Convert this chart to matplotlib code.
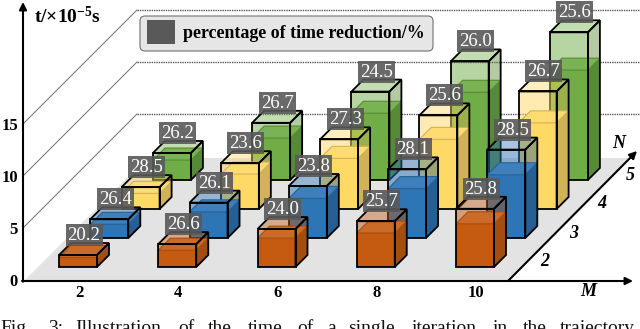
import matplotlib
matplotlib.use("Agg")
import matplotlib.pyplot as plt
from matplotlib.patches import Polygon, FancyBboxPatch, Rectangle

plt.rcParams['font.family'] = ['Liberation Serif', 'DejaVu Serif']
plt.rcParams['mathtext.fontset'] = 'custom'
plt.rcParams['mathtext.rm'] = 'Liberation Serif:bold'
plt.rcParams['mathtext.bf'] = 'Liberation Serif:bold'
plt.rcParams['mathtext.it'] = 'Liberation Serif:bold'

# Data
m_labels = [2, 4, 6, 8, 10]
n_labels = [2, 3, 4, 5]
y_ticks = [0, 5, 10, 15]

# total time per iteration (x 1e-5 s), one list per N
time_n2 = [1.15, 2.2, 3.65, 4.4, 5.6]
time_n3 = [1.8, 3.4, 5.0, 6.6, 8.5]
time_n4 = [2.1, 4.4, 6.7, 9.0, 11.3]
time_n5 = [2.6, 5.5, 8.5, 11.4, 14.2]

# percentage of time reduction, one list per N
pct_n2 = [20.2, 26.6, 24.0, 25.7, 25.8]
pct_n3 = [26.4, 26.1, 23.8, 28.1, 28.5]
pct_n4 = [28.5, 23.6, 27.3, 25.6, 26.7]
pct_n5 = [26.2, 26.7, 24.5, 26.0, 25.6]

times = [time_n2, time_n3, time_n4, time_n5]
pcts = [pct_n2, pct_n3, pct_n4, pct_n5]

# colours per N: front, side, top of the solid part
front_cols = ['#C55A11', '#2E75B6', '#FFD966', '#70AD47']
side_cols = ['#A34E10', '#265F93', '#D2B256', '#578A36']
top_cols = ['#CC6A28', '#3F80BC', '#FFDC72', '#7AB353']

# Projection of the fake 3D scene onto the pixel canvas
K = 10.4       # px per time unit
AXIS_Y = 281
ROW0_Y = 267
COL0_X = 59
COL_DX = 99.25
ROW_DX = 31.3
ROW_DY = 29
BAR_W = 38
DEPTH = 12
EDGE = 1.3

z = [10]


def nz():
    # every mark gets its own layer so the painter order holds
    z[0] += 1
    return z[0]


def poly(ax, pts, **kw):
    ax.add_patch(Polygon(pts, zorder=nz(), **kw))


def draw_bar(ax, x, base, total, pct, i_col):
    h_tot = total * K
    h_sol = total * (1 - pct / 100) * K
    top = base - h_tot
    mid = base - h_sol
    c = front_cols[i_col]
    s = side_cols[i_col]
    t = top_cols[i_col]
    r = x + BAR_W

    front_up = [(x, top), (r, top), (r, mid), (x, mid)]
    side_up = [(r, top), (r + DEPTH, top - DEPTH), (r + DEPTH, mid - DEPTH), (r, mid)]
    top_up = [(x, top), (r, top), (r + DEPTH, top - DEPTH), (x + DEPTH, top - DEPTH)]
    poly(ax, front_up, fc=c, alpha=0.5, ec='none')
    poly(ax, side_up, fc=s, alpha=0.45, ec='none')
    poly(ax, top_up, fc=c, alpha=0.42, ec='none')

    # solid lower part
    poly(ax, [(x, mid), (r, mid), (r, base), (x, base)], fc=c, ec='none')
    poly(ax, [(r, mid), (r + DEPTH, mid - DEPTH), (r + DEPTH, base - DEPTH), (r, base)], fc=s, ec='none')
    poly(ax, [(x, mid), (r, mid), (r + DEPTH, mid - DEPTH), (x + DEPTH, mid - DEPTH)], fc=t, ec=s, lw=0.8)

    # black outline
    poly(ax, [(x, top), (r, top), (r, base), (x, base)], fc='none', ec='black', lw=EDGE)
    poly(ax, [(r, top), (r + DEPTH, top - DEPTH), (r + DEPTH, base - DEPTH), (r, base)], fc='none', ec='black', lw=EDGE)
    poly(ax, top_up, fc='none', ec='black', lw=EDGE)

    # percentage label
    bx = x + 25
    by = top - 20
    ax.add_patch(Rectangle((bx - 18.5, by - 11), 37, 22, fc='#595959', alpha=0.9, ec='none', zorder=nz()))
    ax.text(bx, by + 0.5, f'{pct:.1f}', color='white', fontsize=13.5, ha='center', va='center', zorder=nz())


fig = plt.figure(figsize=(6.4, 3.29), dpi=100)
ax = fig.add_axes([0, 0, 1, 1])
ax.set_xlim(0, 640)
ax.set_ylim(329, 0)
ax.axis('off')

# floor
poly(ax, [(24, AXIS_Y), (507, AXIS_Y), (630, 158), (147, 158)], fc='#E3E3E3', ec='none')

# back walls
for tick in y_ticks[1:]:
    y0 = AXIS_Y - tick * K - 2
    ax.plot([24, 137], [y0, y0 - 113], color='#6E6E6E', lw=0.7, zorder=nz())
    ax.plot([137, 640], [y0 - 113, y0 - 113], color='#555555', lw=1.0, ls=(0, (1, 0.7)), zorder=nz())

# bars, back row first
for i_n in range(len(n_labels) - 1, -1, -1):
    for i_m in range(len(m_labels)):
        x = COL0_X + i_m * COL_DX + i_n * ROW_DX
        base = ROW0_Y - i_n * ROW_DY
        draw_bar(ax, x, base, times[i_n][i_m], pcts[i_n][i_m], i_n)

# axes
arrow = dict(arrowstyle='-|>', color='black', lw=1.5, mutation_scale=11, shrinkA=0, shrinkB=0)
ax.annotate('', xy=(23, 2), xytext=(23, AXIS_Y + 0.7), arrowprops=arrow, zorder=nz())
ax.annotate('', xy=(633, AXIS_Y), xytext=(22, AXIS_Y), arrowprops=arrow, zorder=nz())
ax.annotate('', xy=(637, 151), xytext=(508, AXIS_Y), arrowprops=arrow, zorder=nz())

for tick in y_ticks:
    ax.text(18, AXIS_Y - tick * K + 1, str(tick), fontsize=12, fontweight='bold', ha='right', va='center')
for i_m, lab in enumerate(m_labels):
    ax.text(COL0_X + i_m * COL_DX + BAR_W / 2 + 1, 293, str(lab), fontsize=12, fontweight='bold',
            ha='center', va='center')
for i_n, lab in enumerate(n_labels):
    ax.text(545 + i_n * 28.5, 262 - i_n * 29, str(lab), fontsize=13, style='italic',
            fontweight='bold', ha='center', va='center')
ax.text(588, 292, 'M', fontsize=13, style='italic', fontweight='bold', ha='center', va='center')
ax.text(619, 143, 'N', fontsize=13, style='italic', fontweight='bold', ha='center', va='center')
ax.text(34, 16, r'$\mathrm{t/{\times}10^{-5}s}$', fontsize=14, ha='left', va='center')

# legend
ax.add_patch(FancyBboxPatch((144, 20), 285, 27, boxstyle='round,pad=4,rounding_size=5',
                            fc='#E6E6E6', ec='#707070', lw=0.8, zorder=nz()))
ax.add_patch(Rectangle((147, 20), 28, 24, fc='#595959', ec='none', zorder=nz()))
ax.text(183, 33, 'percentage of time reduction/%', fontsize=12.9, fontweight='bold', ha='left', va='center',
        zorder=nz())

# caption, cut by the lower edge
caption_words = ['Fig.', '3:', 'Illustration', 'of', 'the', 'time', 'of', 'a', 'single', 'iteration', 'in', 'the', 'trajectory']
caption_x = [0, 48, 75, 178, 208, 248, 297, 327, 348, 412, 493, 523, 560]
for w, cx in zip(caption_words, caption_x):
    ax.text(cx, 333, w, fontsize=14, ha='left', va='baseline', color='#111111', zorder=nz())

fig.savefig('out.png', dpi=100)
